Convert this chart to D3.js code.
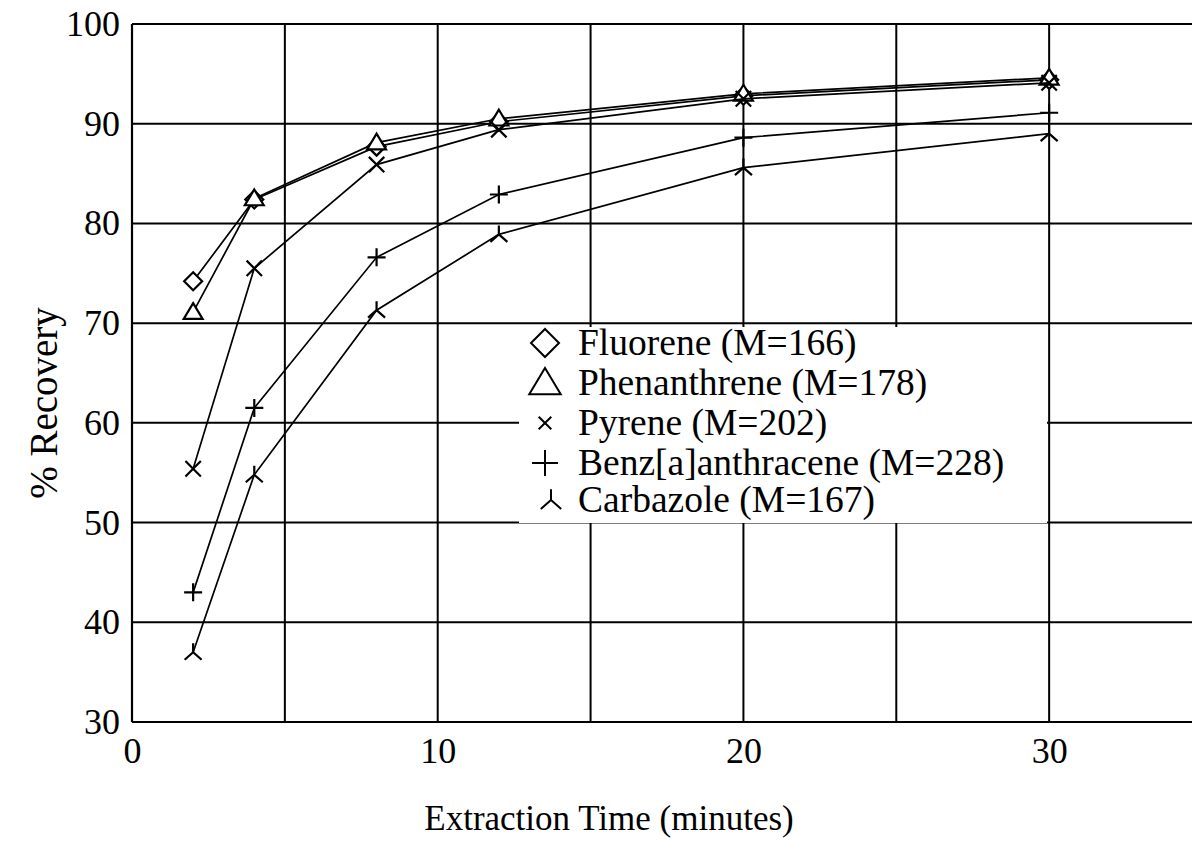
<!DOCTYPE html>
<html>
<head>
<meta charset="utf-8">
<script src="https://cdn.jsdelivr.net/npm/d3@7"></script>
<style>
  html, body { margin: 0; padding: 0; background: #fff; }
  svg { display: block; }
  text { font-family: "Liberation Serif", "Times New Roman", serif; fill: #000; }
</style>
</head>
<body>
<svg id="chart" width="1192" height="858"></svg>
<script>
// Extraction times (minutes)
const times = [2, 4, 8, 12, 20, 30];

// % recovery per compound
const fluorene       = [74.2, 82.4, 87.7, 90.2, 92.8, 94.4];
const phenanthrene   = [71.1, 82.5, 88.1, 90.5, 93.0, 94.6];
const pyrene         = [55.4, 75.5, 85.9, 89.4, 92.5, 94.1];
const benzAnthracene = [43.0, 61.5, 76.6, 82.9, 88.6, 91.1];
const carbazole      = [37.0, 54.8, 71.3, 78.9, 85.6, 89.0];

const seriesNames = [
  "Fluorene (M=166)",
  "Phenanthrene (M=178)",
  "Pyrene (M=202)",
  "Benz[a]anthracene (M=228)",
  "Carbazole (M=167)"
];
const seriesValues = [fluorene, phenanthrene, pyrene, benzAnthracene, carbazole];
const markerKinds = ["diamond", "triangle", "cross", "plus", "tripod"];

const xTickLabels = [0, 10, 20, 30];
const xGridValues = [5, 10, 15, 20, 25, 30, 35];
const yTickLabels = [30, 40, 50, 60, 70, 80, 90, 100];

const W = 1192, H = 858;
const svg = d3.select("#chart");

const x = d3.scaleLinear().domain([0, 35]).range([132, 1202]);
const y = d3.scaleLinear().domain([30, 100]).range([722, 24]);

const ink = "#000";

// grid
const grid = svg.append("g").attr("stroke", ink).attr("stroke-width", 2);
grid.selectAll("line.v").data(xGridValues).join("line")
  .attr("x1", d => x(d)).attr("x2", d => x(d))
  .attr("y1", y(100)).attr("y2", y(30));
grid.selectAll("line.h").data(yTickLabels.slice(1)).join("line")
  .attr("x1", x(0)).attr("x2", W)
  .attr("y1", d => y(d)).attr("y2", d => y(d));

// axes (frame on left and bottom)
const xAxis = d3.axisBottom(x).tickValues(xTickLabels).tickSize(0).tickPadding(15)
  .tickFormat(d3.format("d"));
const gx = svg.append("g").attr("transform", `translate(0,${y(30)})`).call(xAxis);
gx.select(".domain").attr("d", `M${x(0)},0H${W}`).attr("stroke", ink).attr("stroke-width", 2.2);
gx.selectAll("text").attr("font-size", 36).attr("font-family", "Liberation Serif");

const yAxis = d3.axisLeft(y).tickValues(yTickLabels).tickSize(0).tickPadding(12)
  .tickFormat(d3.format("d"));
const gy = svg.append("g").attr("transform", `translate(${x(0)},0)`).call(yAxis);
gy.select(".domain").attr("d", `M0,${y(100)}V${y(30)}`).attr("stroke", ink).attr("stroke-width", 2.2);
gy.selectAll("text").attr("font-size", 36).attr("font-family", "Liberation Serif");

// legend panel blanks the grid behind it
svg.append("rect")
  .attr("x", 519).attr("y", 327).attr("width", 528).attr("height", 196)
  .attr("fill", "#fff");

// marker shapes
function markerPath(kind, s) {
  switch (kind) {
    case "diamond":  return `M0,${-s}L${s},0L0,${s}L${-s},0Z`;
    case "triangle": return `M0,${-s}L${s * 1.05},${s * 0.75}L${-s * 1.05},${s * 0.75}Z`;
    case "cross":    return `M${-s * 0.7},${-s * 0.7}L${s * 0.7},${s * 0.7}M${-s * 0.7},${s * 0.7}L${s * 0.7},${-s * 0.7}`;
    case "plus":     return `M${-s},0L${s},0M0,${-s}L0,${s}`;
    case "tripod":   return `M0,0L0,${-s * 0.9}M0,0L${-s * 0.85},${s * 0.75}M0,0L${s * 0.85},${s * 0.75}`;
  }
}

// series lines and markers
const line = d3.line().x((d, i) => x(times[i])).y(d => y(d));
const plotSizes = [9, 9, 11, 9, 10];
seriesValues.forEach((vals, k) => {
  const g = svg.append("g");
  g.append("path").datum(vals).attr("d", line)
    .attr("fill", "none").attr("stroke", ink).attr("stroke-width", 1.7);
  g.selectAll("path.m").data(vals).join("path")
    .attr("class", "m")
    .attr("transform", (d, i) => `translate(${x(times[i])},${y(d)})`)
    .attr("d", markerPath(markerKinds[k], plotSizes[k]))
    .attr("fill", "#fff").attr("fill-opacity", k < 2 ? 1 : 0)
    .attr("stroke", ink).attr("stroke-width", 2.2);
});

// legend
const legendY = [343, 383, 423, 463, 500];
const legend = svg.append("g");
seriesNames.forEach((name, k) => {
  const sizes = [14, 15, 9, 13, 12];
  legend.append("path")
    .attr("transform", `translate(${k === 4 ? 551 : 545},${legendY[k]})`)
    .attr("d", markerPath(markerKinds[k], sizes[k]))
    .attr("fill", "none").attr("stroke", ink).attr("stroke-width", 2);
  legend.append("text")
    .attr("x", 578).attr("y", legendY[k] + 12)
    .attr("font-size", 37.5)
    .text(name);
});

// axis titles
svg.append("text")
  .attr("x", 609).attr("y", 830)
  .attr("text-anchor", "middle").attr("font-size", 35)
  .text("Extraction Time (minutes)");

svg.append("text")
  .attr("transform", "translate(57,403) rotate(-90)")
  .attr("text-anchor", "middle").attr("font-size", 39)
  .text("% Recovery");
</script>
</body>
</html>
